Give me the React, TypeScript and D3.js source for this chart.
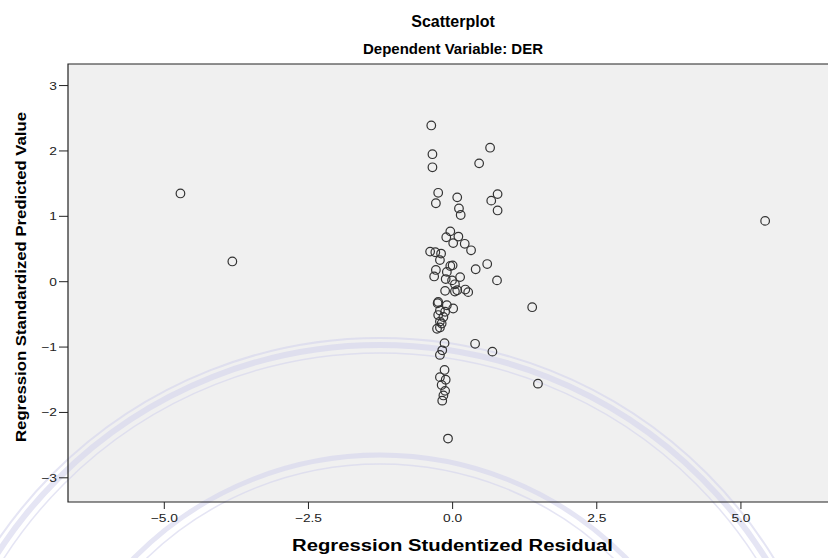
import { useRef, useEffect } from 'react';
import * as d3 from 'd3';

// Regression Studentized Residual (x) vs Regression Standardized Predicted Value (y)
const residuals = [
  -4.72, -3.82, 5.42, 1.38, 1.48,
  -0.37, 0.65, -0.35, -0.35, 0.46, -0.25, -0.29, 0.08, 0.78, 0.67, 0.78, 0.11, 0.14,
  -0.04, -0.11, 0.1, 0.01, 0.21, 0.32, -0.39, -0.3, -0.2, -0.22, 0.6, 0.4, 0.0, -0.04,
  -0.29, -0.32, -0.1, 0.77, -0.12, 0.13, -0.01, 0.04, -0.13, 0.04, 0.22, 0.27, 0.08,
  -0.25, -0.26, -0.1, 0.01, -0.22, -0.13, -0.25, -0.16, -0.22, -0.19, -0.27, -0.22,
  -0.14, 0.39, -0.18, -0.22, 0.69, -0.14, -0.22, -0.12, -0.19, -0.13, -0.16, -0.18, -0.08,
];
const predicted = [
  1.35, 0.31, 0.93, -0.39, -1.56,
  2.39, 2.05, 1.95, 1.75, 1.81, 1.36, 1.2, 1.29, 1.34, 1.24, 1.09, 1.12, 1.02,
  0.77, 0.68, 0.69, 0.59, 0.58, 0.48, 0.46, 0.45, 0.43, 0.33, 0.27, 0.19, 0.25, 0.24,
  0.18, 0.08, 0.15, 0.02, 0.04, 0.07, 0.02, -0.04, -0.14, -0.15, -0.12, -0.16, -0.13,
  -0.31, -0.33, -0.36, -0.41, -0.44, -0.46, -0.51, -0.54, -0.61, -0.64, -0.72, -0.7,
  -0.94, -0.95, -1.05, -1.12, -1.07, -1.35, -1.46, -1.5, -1.58, -1.67, -1.74, -1.82, -2.4,
];
const xTicks = [-5, -2.5, 0, 2.5, 5];
const yTicks = [-3, -2, -1, 0, 1, 2, 3];

const font = '"Liberation Sans", Arial, sans-serif';

export default function App() {
  const ref = useRef<SVGSVGElement>(null);

  useEffect(() => {
    const width = 828;
    const height = 558;
    const left = 68, top = 64, bottom = 502, right = 828;

    const svg = d3.select(ref.current);
    svg.selectAll('*').remove();

    const x = d3.scaleLinear().domain([-6.67, 6.51]).range([left, right]);
    const y = d3.scaleLinear().domain([-3.37, 3.33]).range([bottom, top]);

    svg.append('rect').attr('width', width).attr('height', height).attr('fill', '#fff');

    // plot background
    svg
      .append('rect')
      .attr('x', left)
      .attr('y', top)
      .attr('width', right - left)
      .attr('height', bottom - top)
      .attr('fill', '#f0f0f0');

    // faint watermark seal (background decoration)
    const seal = svg.append('g').attr('fill', 'none').attr('stroke', '#d4d4ee').attr('opacity', 0.6);
    [[462, 2], [455, 6], [447, 1.5], [345, 5], [336, 1.5]].forEach(([r, w]) => {
      seal.append('circle').attr('cx', 380).attr('cy', 800).attr('r', r).attr('stroke-width', w);
    });

    // frame
    svg
      .append('path')
      .attr('d', `M${right},${top}H${left}V${bottom}H${right}`)
      .attr('fill', 'none')
      .attr('stroke', '#222')
      .attr('stroke-width', 1.2);

    // y axis ticks
    const yAxis = svg.append('g');
    yAxis
      .selectAll('line')
      .data(yTicks)
      .join('line')
      .attr('x1', left - 9)
      .attr('x2', left)
      .attr('y1', (d) => y(d))
      .attr('y2', (d) => y(d))
      .attr('stroke', '#222');
    yAxis
      .selectAll('text')
      .data(yTicks)
      .join('text')
      .attr('transform', (d) => `translate(${left - 11}, ${y(d) + 4}) scale(1.25, 1)`)
      .attr('text-anchor', 'end')
      .style('font', `11px ${font}`)
      .attr('fill', '#222')
      .text((d) => d3.format('d')(d));

    // x axis ticks
    const xAxis = svg.append('g');
    xAxis
      .selectAll('line')
      .data(xTicks)
      .join('line')
      .attr('x1', (d) => x(d))
      .attr('x2', (d) => x(d))
      .attr('y1', bottom)
      .attr('y2', bottom + 7)
      .attr('stroke', '#222');
    xAxis
      .selectAll('text')
      .data(xTicks)
      .join('text')
      .attr('transform', (d) => `translate(${x(d)}, ${bottom + 20}) scale(1.25, 1)`)
      .attr('text-anchor', 'middle')
      .style('font', `11px ${font}`)
      .attr('fill', '#222')
      .text((d) => d3.format('.1f')(d));

    // points
    svg
      .append('g')
      .selectAll('circle')
      .data(d3.range(residuals.length))
      .join('circle')
      .attr('cx', (i) => x(residuals[i]))
      .attr('cy', (i) => y(predicted[i]))
      .attr('r', 4.3)
      .attr('fill', 'none')
      .attr('stroke', '#333')
      .attr('stroke-width', 1.2);

    // titles
    svg
      .append('text')
      .attr('x', 453)
      .attr('y', 27)
      .attr('text-anchor', 'middle')
      .style('font', `bold 16px ${font}`)
      .text('Scatterplot');
    svg
      .append('text')
      .attr('x', 453)
      .attr('y', 54)
      .attr('text-anchor', 'middle')
      .style('font', `bold 15px ${font}`)
      .text('Dependent Variable: DER');
    svg
      .append('text')
      .attr('x', 452.5)
      .attr('y', 551)
      .attr('text-anchor', 'middle')
      .attr('textLength', 321)
      .attr('lengthAdjust', 'spacingAndGlyphs')
      .style('font', `bold 16px ${font}`)
      .text('Regression Studentized Residual');
    svg
      .append('text')
      .attr('transform', `translate(26, 277) rotate(-90)`)
      .attr('text-anchor', 'middle')
      .attr('textLength', 330)
      .attr('lengthAdjust', 'spacingAndGlyphs')
      .style('font', `bold 15px ${font}`)
      .text('Regression Standardized Predicted Value');
  }, []);

  return (
    <svg
      ref={ref}
      width={828}
      height={558}
      style={{ position: 'absolute', left: 0, top: 0, display: 'block' }}
    />
  );
}
